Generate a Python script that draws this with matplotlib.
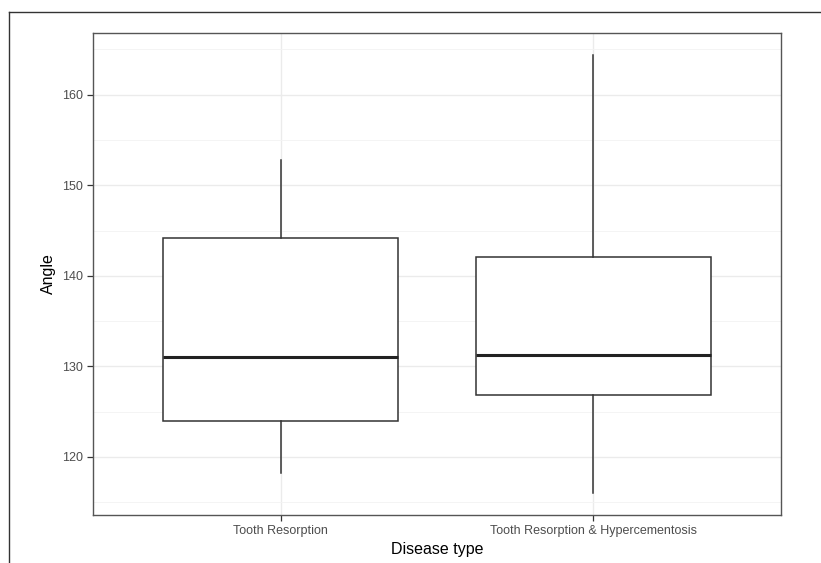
import matplotlib
matplotlib.use("Agg")
import matplotlib.pyplot as plt
from matplotlib.lines import Line2D

plt.rcParams['font.family'] = ['Liberation Sans', 'DejaVu Sans']

# box statistics
categories = ['Tooth Resorption', 'Tooth Resorption & Hypercementosis']
whisker_low = [118.2, 116.0]
q1 = [124.0, 126.8]
median = [131.0, 131.2]
q3 = [144.2, 142.1]
whisker_high = [152.8, 164.4]

W, H, DPI = 821, 563, 100
fig = plt.figure(figsize=(W / DPI, H / DPI), dpi=DPI)
left, right, top, bottom = 93, 781, 33, 515
ax = fig.add_axes([left / W, 1 - bottom / H, (right - left) / W, (bottom - top) / H])

stats = []
for i, name in enumerate(categories):
    stats.append(dict(label=name, whislo=whisker_low[i], q1=q1[i], med=median[i],
                      q3=q3[i], whishi=whisker_high[i], fliers=[]))

ax.bxp(stats, positions=[1, 2], widths=0.75, showcaps=False, patch_artist=True,
       boxprops=dict(facecolor='white', edgecolor='#333333', linewidth=1.1),
       whiskerprops=dict(color='#333333', linewidth=1.1),
       medianprops=dict(color='#222222', linewidth=2.2))

lo = min(whisker_low)
hi = max(whisker_high)
pad = (hi - lo) * 0.05
ax.set_ylim(lo - pad, hi + pad)
ax.set_xlim(0.4, 2.6)
ax.set_yticks([120, 130, 140, 150, 160])
ax.set_yticks([115, 125, 135, 145, 155, 165], minor=True)
ax.set_xticks([1, 2])
ax.set_xticklabels(categories)

ax.grid(True, which='major', color='#ebebeb', linewidth=1.0)
ax.grid(True, which='minor', axis='y', color='#f3f3f3', linewidth=0.6)
ax.set_axisbelow(True)
ax.tick_params(which='minor', length=0)
ax.tick_params(which='major', length=4, width=0.9, color='#333333',
               labelcolor='#4d4d4d', labelsize=9)
for s in ax.spines.values():
    s.set_color('#555555')
    s.set_linewidth(1.0)

ax.set_xlabel('Disease type', fontsize=11.5, color='black', labelpad=3)
ax.set_ylabel('Angle', fontsize=11.5, color='black', labelpad=4)

# outer frame of the figure image
fig.add_artist(Line2D([9 / W, 9 / W], [0, 1 - 12 / H], transform=fig.transFigure,
                      color='#333333', linewidth=1.0))
fig.add_artist(Line2D([9 / W, 1], [1 - 12 / H, 1 - 12 / H], transform=fig.transFigure,
                      color='#333333', linewidth=1.0))

fig.savefig('out.png', dpi=DPI)
